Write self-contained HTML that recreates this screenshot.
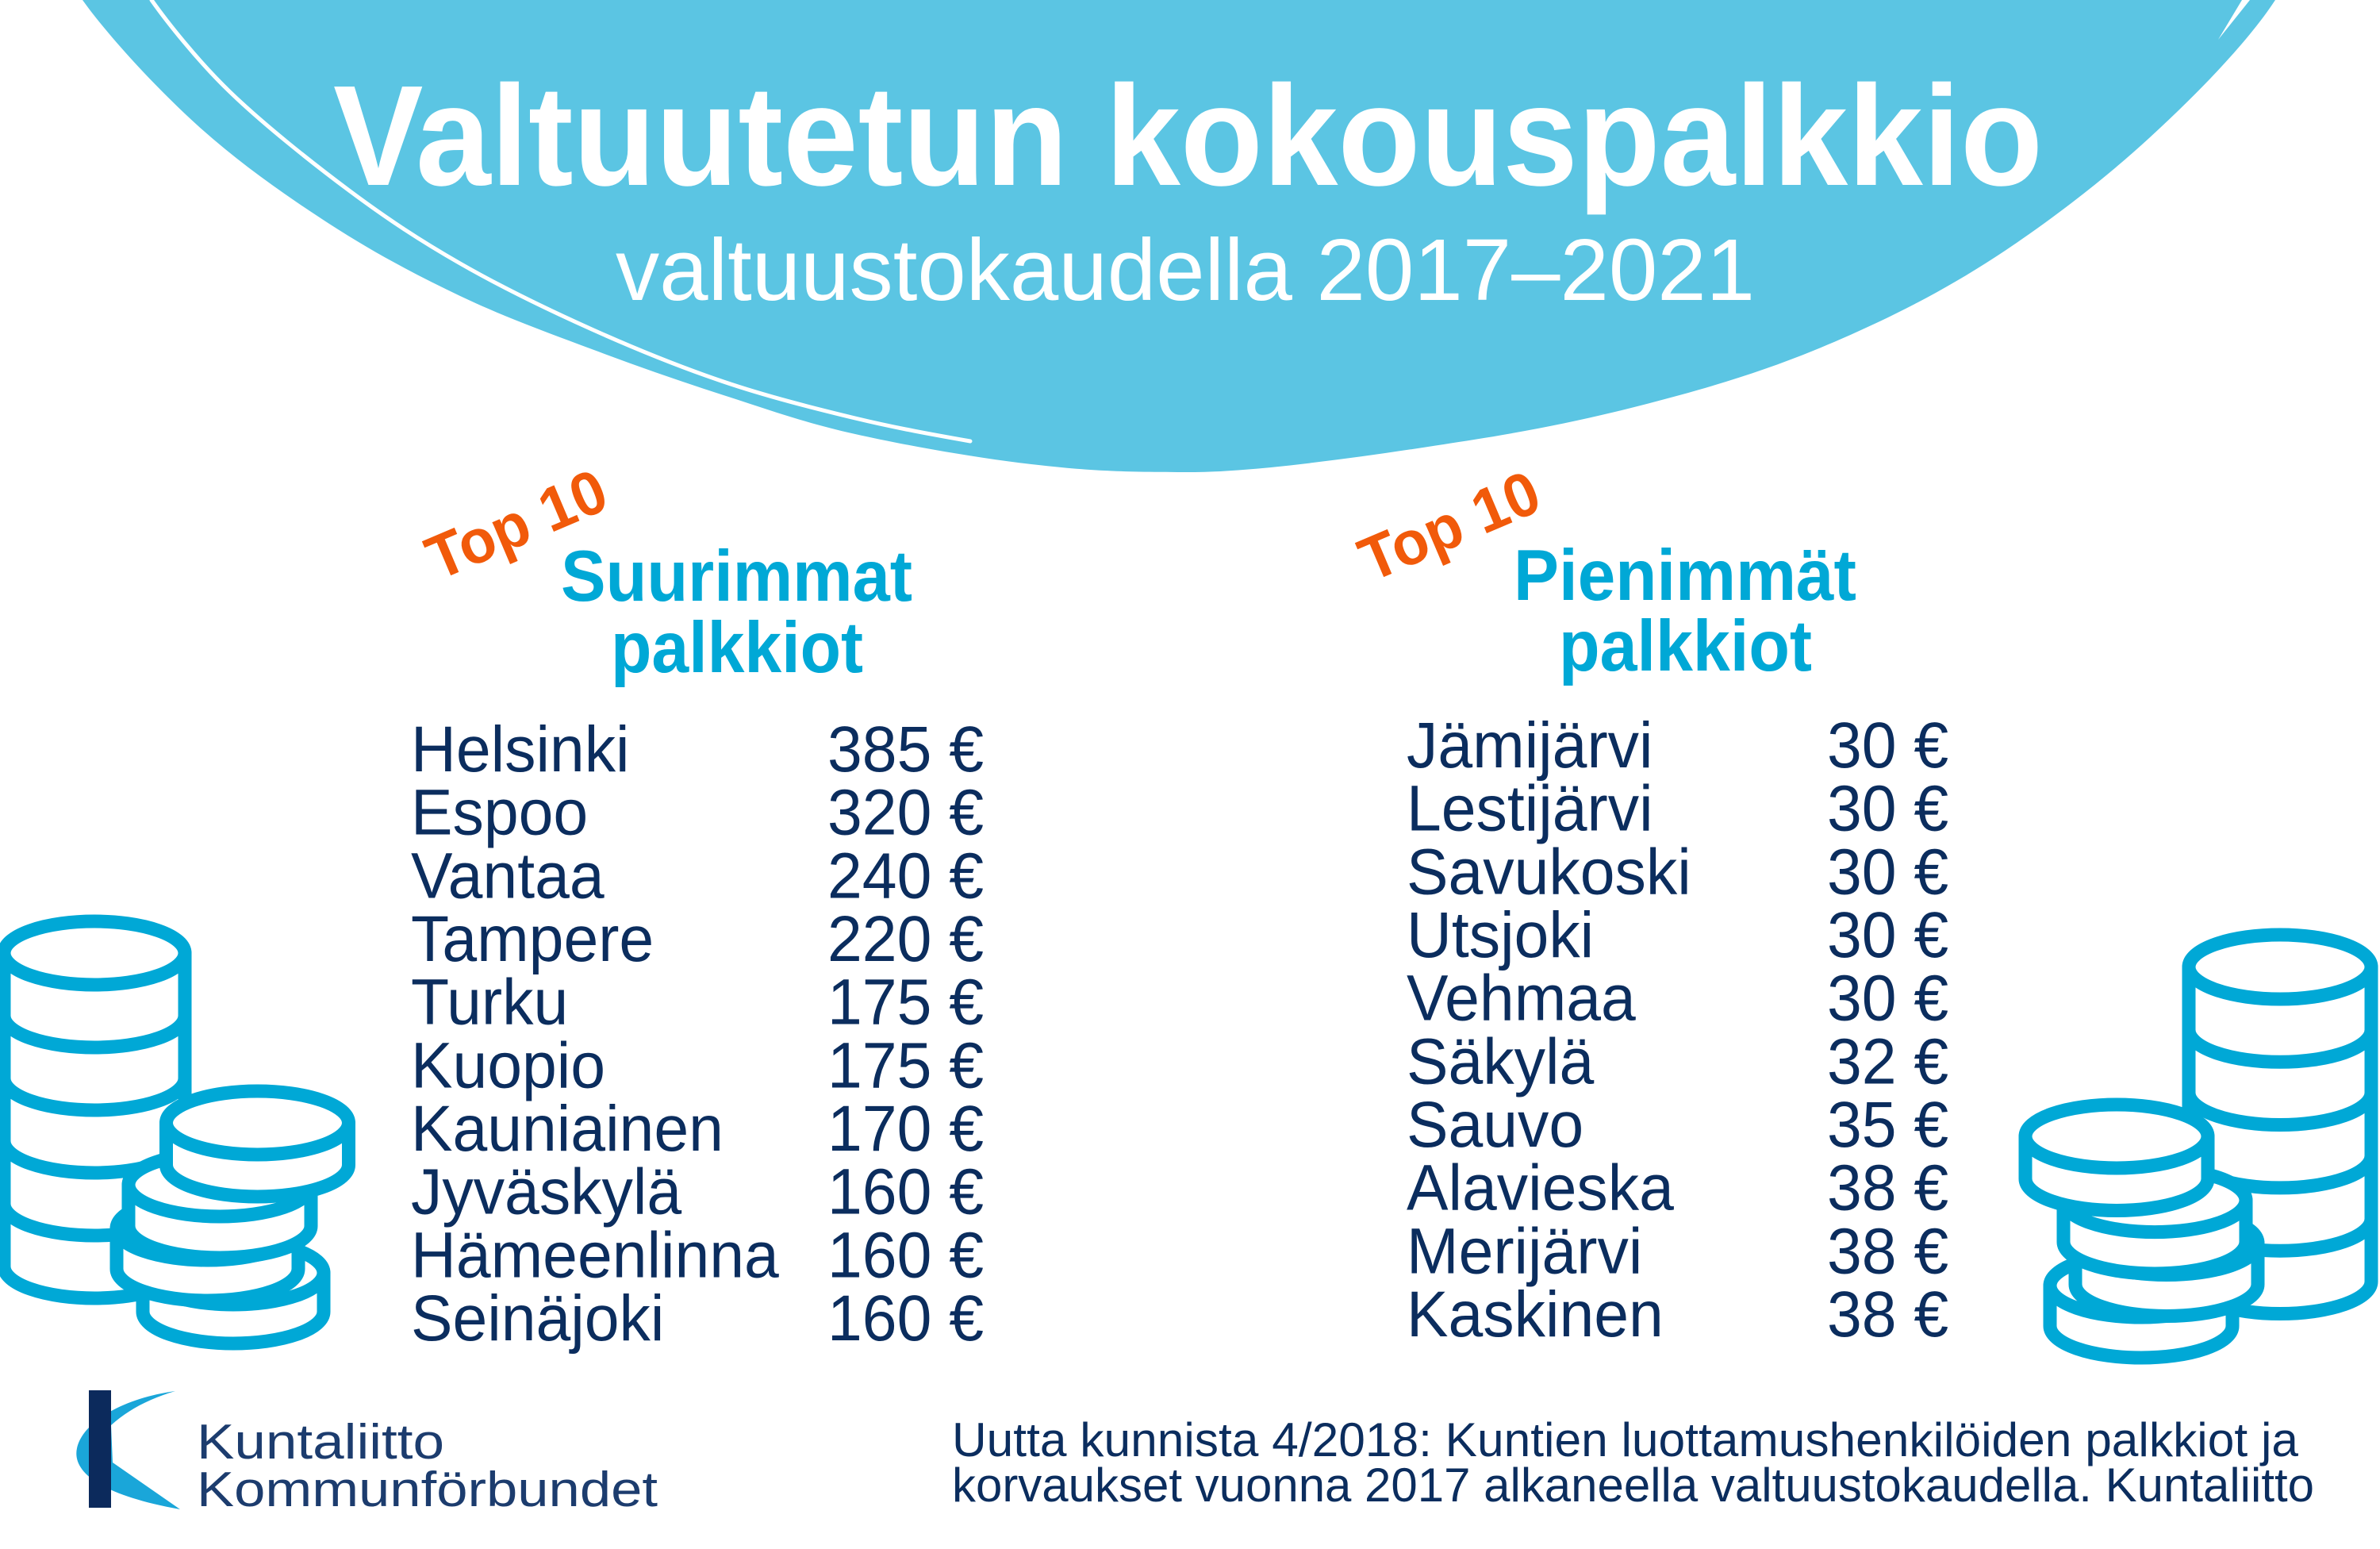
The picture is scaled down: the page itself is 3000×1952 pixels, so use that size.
<!DOCTYPE html>
<html>
<head>
<meta charset="utf-8">
<style>
html,body{margin:0;padding:0;background:#fff;}
svg{display:block;}
</style>
</head>
<body>
<svg width="3000" height="1952" viewBox="0 0 3000 1952" xmlns="http://www.w3.org/2000/svg" font-family="'Liberation Sans', Arial, sans-serif">
<rect width="3000" height="1952" fill="#ffffff"/>

<!-- Blue bowl shape -->
<path d="M 104 -5 L 104 0 C 137.2 46.3 197.2 111 249 158 C 300.8 205 359.8 246.2 415 282 C 470.2 317.8 524.8 346.7 580 373 C 635.2 399.3 690.7 419.2 746 440 C 801.3 460.8 856.7 480.2 912 498 C 967.3 515.8 1013.3 532.5 1078 547 C 1142.7 561.5 1229.7 577 1300 585 C 1370.3 593 1407 595 1500 595 C 1593 595 1755.2 570.2 1858 554 C 1960.8 537.8 2039.8 519.2 2117 498 C 2194.2 476.8 2254.7 456 2321 427 C 2387.3 398 2450.3 366.2 2515 324 C 2579.7 281.8 2650.2 228 2709 174 C 2767.8 120 2832.8 54 2868 0 L 2868 -5 Z" fill="#5bc5e3"/>
<path d="M 191 0 C 209.3 26 248.5 76 290 116 C 331.5 156 391.7 204 440 240 C 488.3 276 529 302.8 580 332 C 631 361.2 690.7 390.2 746 415 C 801.3 439.8 856.7 462.3 912 481 C 967.3 499.7 1026.2 514.5 1078 527 C 1129.8 539.5 1177.7 548 1223 556" fill="none" stroke="#ffffff" stroke-width="5" stroke-linecap="round"/>
<path d="M 2826 0 L 2836 0 L 2796 50 Z" fill="#ffffff"/>

<!-- Title -->
<text x="420" y="233" font-size="180" font-weight="bold" fill="#ffffff" textLength="2155" lengthAdjust="spacingAndGlyphs">Valtuutetun kokouspalkkio</text>
<text x="776" y="378" font-size="110" fill="#ffffff" textLength="1436" lengthAdjust="spacingAndGlyphs">valtuustokaudella 2017–2021</text>

<!-- Top 10 labels -->
<text transform="translate(552,732) rotate(-23)" font-size="78" font-weight="bold" fill="#f15a0a" textLength="238" lengthAdjust="spacingAndGlyphs">Top 10</text>
<text transform="translate(1728,734) rotate(-23)" font-size="78" font-weight="bold" fill="#f15a0a" textLength="238" lengthAdjust="spacingAndGlyphs">Top 10</text>

<!-- Headings -->
<g font-size="91" font-weight="bold" fill="#00a8d6">
<text x="707" y="757" textLength="443" lengthAdjust="spacingAndGlyphs">Suurimmat</text>
<text x="770" y="847" textLength="318" lengthAdjust="spacingAndGlyphs">palkkiot</text>
<text x="1908" y="756" textLength="432" lengthAdjust="spacingAndGlyphs">Pienimmät</text>
<text x="1965" y="845" textLength="319" lengthAdjust="spacingAndGlyphs">palkkiot</text>
</g>

<!-- Lists -->
<g transform="scale(0.96,1)" font-size="82" fill="#0b2d5e">
<text x="539.6" y="972">Helsinki</text>
<text x="539.6" y="1051.6">Espoo</text>
<text x="539.6" y="1131.3">Vantaa</text>
<text x="539.6" y="1211">Tampere</text>
<text x="539.6" y="1290.7">Turku</text>
<text x="539.6" y="1370.4">Kuopio</text>
<text x="539.6" y="1450">Kauniainen</text>
<text x="539.6" y="1529.7">Jyväskylä</text>
<text x="539.6" y="1609.4">Hämeenlinna</text>
<text x="539.6" y="1689">Seinäjoki</text>

<text x="1086.5" y="972">385 €</text>
<text x="1086.5" y="1051.6">320 €</text>
<text x="1086.5" y="1131.3">240 €</text>
<text x="1086.5" y="1211">220 €</text>
<text x="1086.5" y="1290.7">175 €</text>
<text x="1086.5" y="1370.4">175 €</text>
<text x="1086.5" y="1450">170 €</text>
<text x="1086.5" y="1529.7">160 €</text>
<text x="1086.5" y="1609.4">160 €</text>
<text x="1086.5" y="1689">160 €</text>

<text x="1846.9" y="967">Jämijärvi</text>
<text x="1846.9" y="1046.6">Lestijärvi</text>
<text x="1846.9" y="1126.3">Savukoski</text>
<text x="1846.9" y="1206">Utsjoki</text>
<text x="1846.9" y="1285.7">Vehmaa</text>
<text x="1846.9" y="1365.4">Säkylä</text>
<text x="1846.9" y="1445">Sauvo</text>
<text x="1846.9" y="1524.7">Alavieska</text>
<text x="1846.9" y="1604.4">Merijärvi</text>
<text x="1846.9" y="1684">Kaskinen</text>

<text x="2398.9" y="967">30 €</text>
<text x="2398.9" y="1046.6">30 €</text>
<text x="2398.9" y="1126.3">30 €</text>
<text x="2398.9" y="1206">30 €</text>
<text x="2398.9" y="1285.7">30 €</text>
<text x="2398.9" y="1365.4">32 €</text>
<text x="2398.9" y="1445">35 €</text>
<text x="2398.9" y="1524.7">38 €</text>
<text x="2398.9" y="1604.4">38 €</text>
<text x="2398.9" y="1684">38 €</text>
</g>

<!-- Left coins -->
<g fill="#ffffff" stroke="#00a8d6" stroke-width="17" stroke-linejoin="round" stroke-linecap="round">
<path d="M 5 1201 A 114 40 0 0 1 233 1201 L 233 1596 A 114 40 0 0 1 5 1596 Z"/>
<path fill="none" d="M 5 1201 A 114 40 0 0 0 233 1201"/>
<path fill="none" d="M 5 1280 A 114 40 0 0 0 233 1280"/>
<path fill="none" d="M 5 1359 A 114 40 0 0 0 233 1359"/>
<path fill="none" d="M 5 1438 A 114 40 0 0 0 233 1438"/>
<path fill="none" d="M 5 1517 A 114 40 0 0 0 233 1517"/>

<path d="M 180 1604 A 114 40 0 0 1 408 1604 L 408 1653 A 114 40 0 0 1 180 1653 Z"/>
<path fill="none" d="M 180 1604 A 114 40 0 0 0 408 1604"/>

<path d="M 147 1548 A 114.5 40 0 0 1 376 1548 L 376 1599 A 114.5 40 0 0 1 147 1599 Z"/>
<path fill="none" d="M 147 1548 A 114.5 40 0 0 0 376 1548"/>

<path d="M 162 1493 A 115 40 0 0 1 392 1493 L 392 1545 A 115 40 0 0 1 162 1545 Z"/>
<path fill="none" d="M 162 1493 A 115 40 0 0 0 392 1493"/>

<path d="M 209.5 1415 A 115 40 0 0 1 439.5 1415 L 439.5 1468 A 115 40 0 0 1 209.5 1468 Z"/>
<path fill="none" d="M 209.5 1415 A 115 40 0 0 0 439.5 1415"/>
</g>

<!-- Right coins -->
<g fill="#ffffff" stroke="#00a8d6" stroke-width="17" stroke-linejoin="round" stroke-linecap="round">
<path d="M 2759 1218.5 A 115 40.5 0 0 1 2989 1218.5 L 2989 1615 A 115 40.5 0 0 1 2759 1615 Z"/>
<path fill="none" d="M 2759 1218.5 A 115 40.5 0 0 0 2989 1218.5"/>
<path fill="none" d="M 2759 1297.8 A 115 40.5 0 0 0 2989 1297.8"/>
<path fill="none" d="M 2759 1377 A 115 40.5 0 0 0 2989 1377"/>
<path fill="none" d="M 2759 1456.4 A 115 40.5 0 0 0 2989 1456.4"/>
<path fill="none" d="M 2759 1535.7 A 115 40.5 0 0 0 2989 1535.7"/>

<path d="M 2584 1620 A 115 40 0 0 1 2814 1620 L 2814 1671 A 115 40 0 0 1 2584 1671 Z"/>
<path fill="none" d="M 2584 1620 A 115 40 0 0 0 2814 1620"/>

<path d="M 2616 1566.5 A 115 40 0 0 1 2846 1566.5 L 2846 1618.5 A 115 40 0 0 1 2616 1618.5 Z"/>
<path fill="none" d="M 2616 1566.5 A 115 40 0 0 0 2846 1566.5"/>

<path d="M 2601 1512.6 A 115 40 0 0 1 2831 1512.6 L 2831 1565 A 115 40 0 0 1 2601 1565 Z"/>
<path fill="none" d="M 2601 1512.6 A 115 40 0 0 0 2831 1512.6"/>

<path d="M 2553 1432 A 115 40 0 0 1 2783 1432 L 2783 1485.5 A 115 40 0 0 1 2553 1485.5 Z"/>
<path fill="none" d="M 2553 1432 A 115 40 0 0 0 2783 1432"/>
</g>

<!-- Logo -->
<path d="M 221 1753 C 155 1762 104 1792 97 1825 C 91 1853 122 1883 227 1902 L 142 1843 L 140 1796 C 162 1776 190 1762 221 1753 Z" fill="#1aa6d9"/>
<rect x="112" y="1752" width="28" height="148" fill="#0c2a5c"/>
<text x="248" y="1838" font-size="62" fill="#1c3c6e" textLength="312" lengthAdjust="spacingAndGlyphs">Kuntaliitto</text>
<text x="248" y="1898" font-size="62" fill="#1c3c6e" textLength="581" lengthAdjust="spacingAndGlyphs">Kommunförbundet</text>

<!-- Footnote -->
<text x="1200" y="1835" font-size="60" fill="#0b2d5e" textLength="1697" lengthAdjust="spacingAndGlyphs">Uutta kunnista 4/2018: Kuntien luottamushenkilöiden palkkiot ja</text>
<text x="1200" y="1892" font-size="60" fill="#0b2d5e" textLength="1717" lengthAdjust="spacingAndGlyphs">korvaukset vuonna 2017 alkaneella valtuustokaudella. Kuntaliitto</text>
</svg>
</body>
</html>
